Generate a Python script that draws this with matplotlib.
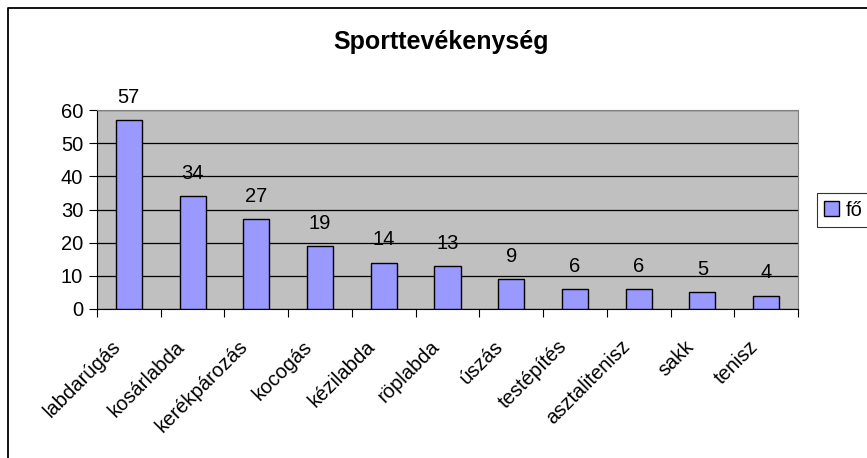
import matplotlib.pyplot as plt
from matplotlib.lines import Line2D

plt.rcParams['font.family'] = ['Liberation Sans', 'DejaVu Sans']

# data
sports = ['labdarúgás', 'kosárlabda', 'kerékpározás', 'kocogás', 'kézilabda',
          'röplabda', 'úszás', 'testépítés', 'asztalitenisz', 'sakk', 'tenisz']
counts = [57, 34, 27, 19, 14, 13, 9, 6, 6, 5, 4]
y_ticks = [0, 10, 20, 30, 40, 50, 60]

W, H = 867, 458
fs = 14.5
fig = plt.figure(figsize=(W / 100, H / 100), dpi=100, facecolor='white')

# outer chart border (only left and top edges are visible in the crop)
fig.lines.append(Line2D([7.5 / W, 7.5 / W, 1], [0, 1 - 7.5 / H, 1 - 7.5 / H],
                        transform=fig.transFigure, color='black', linewidth=1.3))

ax = fig.add_axes([97 / W, 1 - 309 / H, 701 / W, 199 / H])
ax.set_facecolor('#C0C0C0')

x = list(range(len(sports)))
ax.bar(x, counts, width=0.41, color='#9999FF', edgecolor='black',
       linewidth=1.0, label='fő', zorder=3)

for xi, v in zip(x, counts):
    ax.text(xi, v + 4.0, str(v), ha='center', va='bottom', fontsize=fs)

ax.set_xlim(-0.5, len(sports) - 0.5)
ax.set_ylim(0, 60)
ax.set_yticks(y_ticks)
ax.set_yticklabels([str(t) for t in y_ticks], fontsize=fs)
ax.yaxis.grid(True, color='black', linewidth=0.9, zorder=1)
ax.set_axisbelow(True)

# category ticks sit between the bars
ax.set_xticks([i - 0.5 for i in range(len(sports) + 1)])
ax.set_xticklabels([])
ax.tick_params(axis='x', length=6, direction='out')
ax.tick_params(axis='y', length=6, direction='out', pad=4)

# rotated category labels
for xi, name in zip(x, sports):
    ax.annotate(name, xy=(xi, 0), xycoords=('data', 'axes fraction'),
                xytext=(-8, -25), textcoords='offset points',
                rotation=45, ha='right', va='center',
                rotation_mode='anchor', fontsize=fs)

for side in ['top', 'right']:
    ax.spines[side].set_color('#808080')
ax.spines['left'].set_color('black')
ax.spines['bottom'].set_color('black')

fig.text(441 / W, 1 - 42 / H, 'Sporttevékenység', ha='center', va='center',
         fontsize=18, fontweight='bold')

leg = fig.legend(loc='center left', bbox_to_anchor=(817 / W, 1 - 210 / H),
                 fontsize=fs, frameon=True, fancybox=False,
                 handlelength=0.75, handleheight=0.75, handletextpad=0.35,
                 borderpad=0.35, borderaxespad=0)
leg.get_frame().set_edgecolor('black')
leg.get_frame().set_linewidth(0.8)

fig.savefig('out.png', dpi=100)
